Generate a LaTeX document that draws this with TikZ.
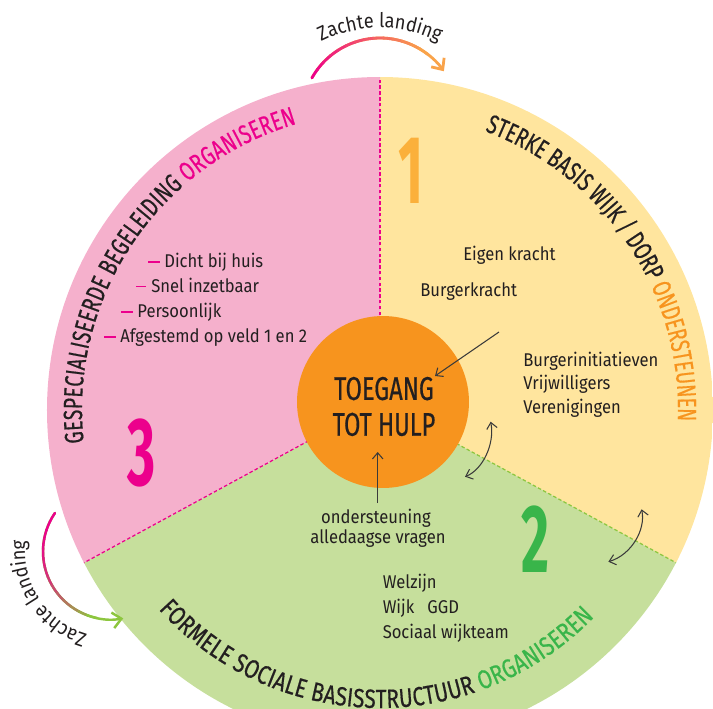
\documentclass[tikz,border=0pt]{standalone}
\usepackage{fontspec}
\setmainfont{Fira Sans}
\newfontfamily\bodyfam[FakeStretch=0.9]{Fira Sans}
\newfontfamily\capsfam[FakeStretch=0.72, FakeBold=0.5]{Fira Sans}
\newfontfamily\capsbreedfam[FakeStretch=0.79, FakeBold=0.5]{Fira Sans}
\newfontfamily\numfam[FakeStretch=0.56]{Fira Sans}
\usepackage{tikz}
\usetikzlibrary{arrows.meta, decorations.text}
\usepackage{xcolor}
\definecolor{wijkgeel}{HTML}{FFE59E}
\definecolor{basisgroen}{HTML}{C6DF9C}
\definecolor{begeleidroze}{HTML}{F5B0CC}
\definecolor{hulporanje}{HTML}{F7941E}
\definecolor{cijfergeel}{HTML}{FBB03B}
\definecolor{cijfergroen}{HTML}{39B54A}
\definecolor{cijferroze}{HTML}{EC008C}
\definecolor{tekstgrijs}{HTML}{231F20}
\definecolor{lijngroen}{HTML}{8DC63F}
\definecolor{zachtoranje}{HTML}{F9A34A}
\definecolor{pijlgrijs}{HTML}{3A3A3A}

\newcommand\bodyfont{\bodyfam\fontsize{10.5}{12.6}\selectfont}
\newcommand\ringfont{\capsfam\fontsize{15}{16}\selectfont}
\newcommand\ringbreedfont{\capsbreedfam\fontsize{15}{16}\selectfont}
\newcommand\zachtefont{\bodyfam\fontsize{11.5}{13}\selectfont}
\newcommand\hubfont{\capsfam\fontsize{18.7}{20.4}\selectfont}
\newcommand\cijferfont{\numfam\bfseries\fontsize{55}{55}\selectfont}
\newcommand\lijststreep{\textcolor{cijferroze}{\rule[2.1pt]{6.8pt}{1.5pt}}\hspace{2.3pt}}
\newcommand\lijststreepdun{\textcolor{cijferroze}{\rule[2.6pt]{5.7pt}{0.6pt}}\hspace{2.8pt}}

\begin{document}
\begin{tikzpicture}[
    x=0.02cm, y=0.02cm,
    tekst/.style={
        font=\bodyfont,
        text=tekstgrijs,
        inner sep=0pt,
        anchor=base west
    },
    tekstmidden/.style={
        tekst,
        anchor=base
    },
    cijfer/.style={
        font=\cijferfont,
        inner sep=0pt
    },
    hub/.style={
        circle,
        fill=hulporanje,
        minimum size=3.44cm,
        inner sep=0pt
    },
    hubtekst/.style={
        font=\hubfont,
        text=tekstgrijs,
        align=center,
        inner sep=0pt
    },
    grensroze/.style={
        draw=cijferroze,
        line width=0.7pt,
        dash pattern=on 2pt off 1.3pt
    },
    grensgroen/.style={
        draw=lijngroen,
        line width=0.7pt,
        dash pattern=on 2pt off 1.3pt
    },
    pijl/.style={
        -{Straight Barb[length=3.5pt,width=6pt]},
        line width=0.6pt,
        draw=pijlgrijs
    },
    dubbelpijl/.style={
        {Straight Barb[length=3.5pt,width=6pt]}-{Straight Barb[length=3.5pt,width=6pt]},
        line width=0.6pt,
        draw=pijlgrijs
    },
    ringpad/.style={
        decorate,
        decoration={text along path, text align={fit to path}, text={#1}}
    },
    zachtpad/.style={
        decorate,
        decoration={text along path, text align=center,
            text={|\zachtefont\color{tekstgrijs}|Zachte landing}}
    },
    zachtboog/.style={
        line width=1.6pt,
        line cap=round
    }
]

\useasboundingbox (-380,-298) rectangle (333,410);
\clip (-380,-298) rectangle (333,410);

% Sectors
\coordinate (kern) at (0,8);
\begin{scope}
    \clip (0,0) circle[radius=333];
    \begin{scope}[shift={(kern)}]
        \fill[wijkgeel] (0,0) -- (90:700) -- (0:700) -- (331.5:700) -- cycle;
        \fill[basisgroen] (0,0) -- (331.5:700) -- (270:700) -- (208.5:700) -- cycle;
        \fill[begeleidroze] (0,0) -- (208.5:700) -- (180:700) -- (90:700) -- cycle;
        \draw[grensroze] (0,0) -- (90:400);
        \draw[grensroze] (0,0) -- (208.5:400);
        \draw[grensgroen] (0,0) -- (331.5:400);
    \end{scope}
\end{scope}

% Ring labels
\path[ringpad={|\ringfont\color{tekstgrijs}|STERKE BASIS WIJK / DORP |\ringfont\color{hulporanje}|ONDERSTEUNEN}]
    (69.4:298) arc[start angle=69.4, end angle=-1.9, radius=298];
\path[ringpad={|\ringfont\color{tekstgrijs}|GESPECIALISEERDE BEGELEIDING |\ringfont\color{cijferroze}|ORGANISEREN}]
    (186.3:298) arc[start angle=186.3, end angle=106.3, radius=298];
\path[ringpad={|\ringbreedfont\color{tekstgrijs}|FORMELE SOCIALE BASISSTRUCTUUR |\ringbreedfont\color{cijfergroen}|ORGANISEREN}]
    (222:298) arc[start angle=222, end angle=316, radius=298];

% Field numbers
\node[cijfer, text=cijfergeel] (veld1) at (31.5,239.5) {1};
\node[cijfer, text=cijfergroen] (veld2) at (155,-129) {2};
\node[cijfer, text=cijferroze] (veld3) at (-238.5,-42.5) {3};

% Centre
\node[hub] (hub) at (3,8) {};
\node[hubtekst] (hubtekst) at (4,3.5) {TOEGANG\\TOT HULP};

% Field 1
\node[tekst] (eigen) at (83,150) {Eigen kracht};
\node[tekst] (burger) at (40,114) {Burgerkracht};
\node[tekst] (initiatief) at (143,44) {Burgerinitiatieven};
\node[tekst] (vrijwillig) at (143,21) {Vrijwilligers};
\node[tekst] (vereniging) at (143,-3) {Verenigingen};

% Field 2
\node[tekstmidden] (vraag1) at (-4,-113) {ondersteuning};
\node[tekstmidden] (vraag2) at (-2,-133) {alledaagse vragen};
\node[tekst] (welzijn) at (2.4,-178.3) {Welzijn};
\node[tekst] (wijk) at (2.4,-203.3) {Wijk\hspace{7.5pt}GGD};
\node[tekst] (wijkteam) at (2.4,-228.3) {Sociaal wijkteam};

% Field 3
\node[tekst] (dicht) at (-232,143) {\lijststreep Dicht bij huis};
\node[tekst] (snel) at (-244,118) {\lijststreepdun Snel inzetbaar};
\node[tekst] (persoon) at (-259,93) {\lijststreep Persoonlijk};
\node[tekst] (afgestemd) at (-276,68) {\lijststreep Afgestemd op veld 1 en 2};

% Arrows
\coordinate (burgerstaart) at (119,78);
\coordinate (burgerpunt) at (55,34);
\draw[pijl] (burgerstaart) -- (burgerpunt);

\coordinate (vraagstaart) at (-2.3,-93);
\coordinate (vraagpunt) at (-2.3,-42);
\draw[pijl] (vraagstaart) -- (vraagpunt);

\coordinate (wissel1a) at (110.7,-11.7);
\coordinate (wissel1b) at (85,-66.7);
\draw[dubbelpijl] (wissel1a) .. controls (115,-35) and (102,-60) .. (wissel1b);

\coordinate (wissel2a) at (261.6,-99.3);
\coordinate (wissel2b) at (228.4,-151.7);
\draw[dubbelpijl] (wissel2a) .. controls (266,-120) and (251,-145) .. (wissel2b);

% Zachte landing, top
\coordinate (boogtop) at (0,294);
\coordinate (tekstboogtop) at (0,252);
\draw[zachtboog, draw=zachtoranje, -{Straight Barb[length=5pt,width=9pt]}]
    ([shift={(150.8:78)}]boogtop) arc[start angle=150.8, end angle=35, radius=78];
\foreach \i in {0,...,13}{
    \pgfmathsetmacro\hoekA{150.8-7*\i}
    \pgfmathsetmacro\hoekB{150.8-7*\i-7.5}
    \pgfmathtruncatemacro\meng{100*\i/13}
    \draw[zachtboog, draw=zachtoranje!\meng!cijferroze]
        ([shift={(\hoekA:78)}]boogtop) arc[start angle=\hoekA, end angle=\hoekB, radius=78];
}
\path[zachtpad] ([shift={(125:130)}]tekstboogtop) arc[start angle=125, end angle=55, radius=130];

% Zachte landing, left
\coordinate (booglinks) at (-269,-141.5);
\draw[zachtboog, line width=1.4pt, draw=lijngroen, -{Straight Barb[length=5pt,width=9pt]}]
    ([shift={(145.5:68)}]booglinks) arc[start angle=145.5, end angle=280.4, radius=68];
\foreach \i in {0,...,13}{
    \pgfmathsetmacro\hoekA{145.5+8*\i}
    \pgfmathsetmacro\hoekB{145.5+8*\i+8.5}
    \pgfmathtruncatemacro\meng{100*(\i/13)^2}
    \draw[zachtboog, line width=1.4pt, draw=lijngroen!\meng!cijferroze]
        ([shift={(\hoekA:68)}]booglinks) arc[start angle=\hoekA, end angle=\hoekB, radius=68];
}
\path[zachtpad] ([shift={(257:86)}]booglinks) arc[start angle=257, end angle=170, radius=86];

\end{tikzpicture}
\end{document}
